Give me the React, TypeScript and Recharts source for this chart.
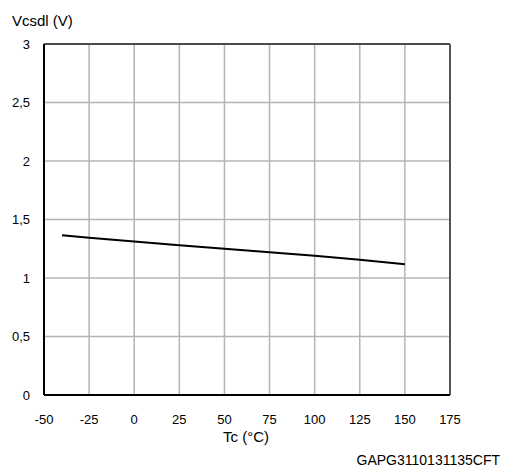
import { CartesianGrid, Line, LineChart, ReferenceLine, XAxis, YAxis } from 'recharts'

const temps = [-40, -25, 0, 25, 50, 75, 100, 125, 150]
const vcsdl = [1.365, 1.345, 1.313, 1.28, 1.25, 1.22, 1.19, 1.156, 1.117]
const xTicks = [-50, -25, 0, 25, 50, 75, 100, 125, 150, 175]
const yTicks = [0, 0.5, 1, 1.5, 2, 2.5, 3]

const data = temps.map((t, i) => ({ t, v: vcsdl[i] }))

const font = '"Liberation Sans", Arial, sans-serif'

export default function App() {
  return (
    <div style={{ position: 'absolute', left: 0, top: 0, width: 505, height: 474, background: '#fff', fontFamily: font }}>
      <LineChart width={505} height={474} data={data} margin={{ top: 44, right: 55, bottom: 49, left: 0 }}>
        <CartesianGrid stroke="#b4b4b4" strokeWidth={1.5} />
        <XAxis
          dataKey="t"
          type="number"
          domain={[-50, 175]}
          ticks={xTicks}
          height={30}
          tickLine={false}
          axisLine={{ stroke: '#000', strokeWidth: 2 }}
          tick={{ fill: '#000', fontSize: 13, fontFamily: font }}
          tickMargin={14}
        />
        <YAxis
          type="number"
          domain={[0, 3]}
          ticks={yTicks}
          width={44}
          tickLine={false}
          axisLine={{ stroke: '#000', strokeWidth: 2 }}
          tick={{ fill: '#000', fontSize: 13, fontFamily: font }}
          tickMargin={8}
          tickFormatter={(v: number) => String(v).replace('.', ',')}
        />
        <ReferenceLine y={3} stroke="#222" strokeWidth={1.5} />
        <ReferenceLine x={175} stroke="#555" strokeWidth={2} />
        <Line dataKey="v" stroke="#000" strokeWidth={2} dot={false} isAnimationActive={false} />
      </LineChart>
      <div style={{ position: 'absolute', left: 12, top: 12, fontSize: 15 }}>Vcsdl (V)</div>
      <div style={{ position: 'absolute', left: 223, top: 428, fontSize: 15 }}>Tc (°C)</div>
      <div style={{ position: 'absolute', right: 5, top: 452, fontSize: 14 }}>GAPG3110131135CFT</div>
    </div>
  )
}
